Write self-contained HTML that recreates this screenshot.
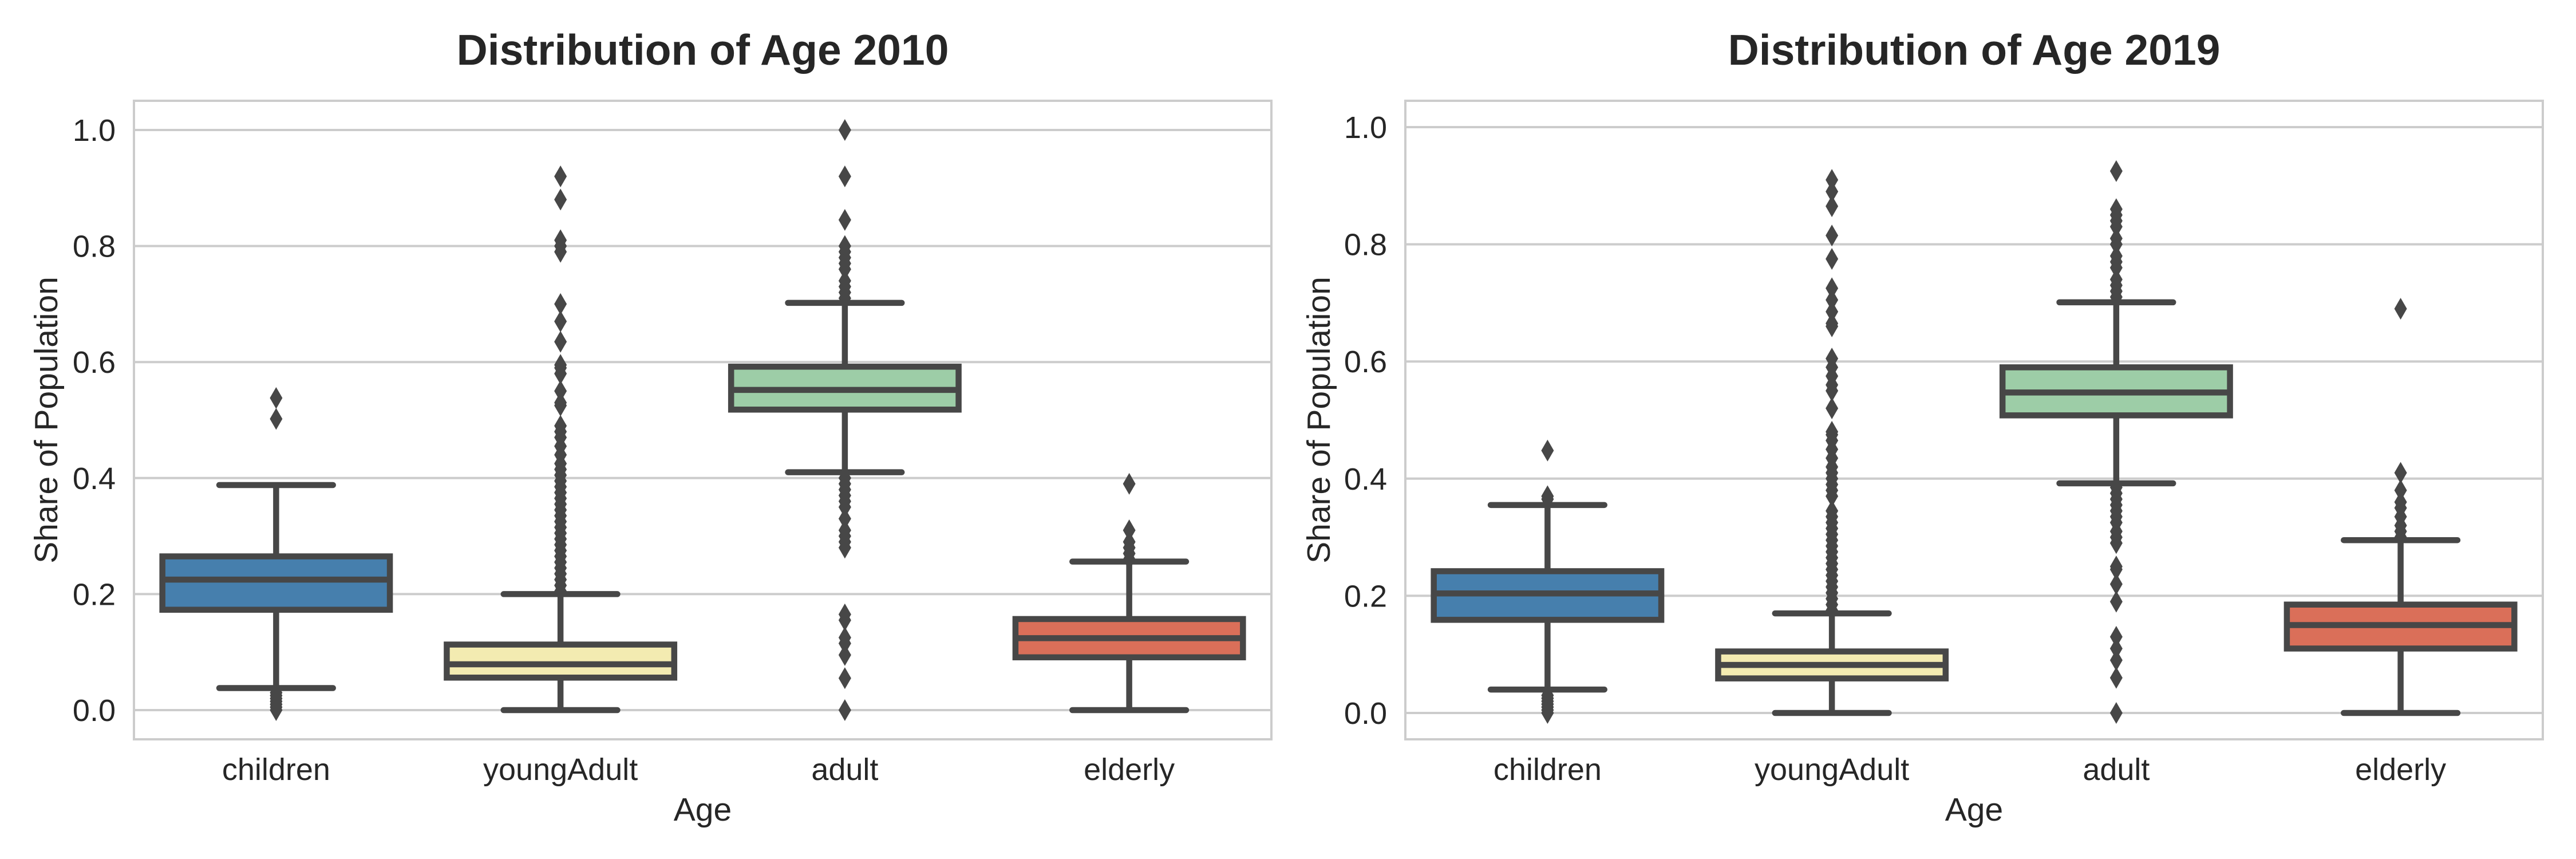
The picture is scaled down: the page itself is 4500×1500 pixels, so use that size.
<!DOCTYPE html>
<html><head><meta charset="utf-8"><style>
html,body{margin:0;padding:0;background:#fff;}
svg{display:block;font-family:"Liberation Sans",Arial,sans-serif;}
</style></head><body>
<svg id="chart" width="4500" height="1500" viewBox="0 0 4500 1500" xmlns="http://www.w3.org/2000/svg"></svg>
<script>
const categories = ["children","youngAdult","adult","elderly"];
const colors = ["#467fad","#f3ebb1","#9dcda7","#da6f59"];
const yTicks = [0.0,0.2,0.4,0.6,0.8,1.0];
const yTickLabels = ["0.0","0.2","0.4","0.6","0.8","1.0"];
// 2010 stats: [whiskerLo, Q1, median, Q3, whiskerHi]
const stats2010 = [
  [0.038,0.173,0.225,0.265,0.388],
  [0.0,0.056,0.079,0.113,0.200],
  [0.410,0.518,0.552,0.592,0.702],
  [0.0,0.091,0.124,0.157,0.256]
];
const outliers2010_children = [0.538,0.502,0.03,0.025,0.02,0.015,0.01,0.005,0.0];
const outliers2010_youngAdult = [0.205,0.215,0.225,0.235,0.245,0.255,0.265,0.275,0.285,0.295,0.305,0.315,0.325,0.335,0.345,0.355,0.365,0.375,0.385,0.395,0.405,0.415,0.425,0.44,0.455,0.47,0.48,0.49,0.525,0.53,0.55,0.58,0.59,0.595,0.635,0.67,0.70,0.79,0.80,0.81,0.88,0.92];
const outliers2010_adult = [0.71,0.72,0.73,0.74,0.76,0.77,0.78,0.79,0.80,0.845,0.92,1.0,0.40,0.39,0.38,0.37,0.36,0.35,0.33,0.31,0.30,0.29,0.28,0.165,0.155,0.125,0.115,0.095,0.055,0.0];
const outliers2010_elderly = [0.26,0.27,0.28,0.29,0.31,0.39];
const stats2019 = [
  [0.040,0.159,0.204,0.242,0.355],
  [0.0,0.059,0.082,0.105,0.170],
  [0.392,0.508,0.547,0.590,0.701],
  [0.0,0.110,0.150,0.185,0.295]
];
const outliers2019_children = [0.365,0.37,0.448,0.03,0.025,0.02,0.015,0.01,0.005,0.0];
const outliers2019_youngAdult = [0.175,0.185,0.195,0.205,0.215,0.225,0.235,0.245,0.255,0.265,0.275,0.285,0.295,0.305,0.315,0.325,0.335,0.345,0.37,0.38,0.39,0.40,0.41,0.42,0.435,0.45,0.465,0.475,0.48,0.52,0.55,0.56,0.575,0.59,0.605,0.66,0.665,0.685,0.705,0.725,0.775,0.815,0.865,0.89,0.91];
const outliers2019_adult = [0.71,0.72,0.73,0.74,0.76,0.77,0.78,0.80,0.81,0.83,0.84,0.85,0.86,0.925,0.385,0.375,0.365,0.355,0.345,0.335,0.325,0.31,0.30,0.29,0.25,0.245,0.22,0.19,0.13,0.11,0.09,0.06,0.0];
const outliers2019_elderly = [0.30,0.31,0.32,0.335,0.35,0.36,0.38,0.41,0.69];

const panels = [
  {name:"2010", title:"Distribution of Age 2010", left:234, right:2221, top:176, bottom:1291, y0:1240, y1:227, stats:stats2010,
   outliers:[outliers2010_children,outliers2010_youngAdult,outliers2010_adult,outliers2010_elderly], ylabX:80},
  {name:"2019", title:"Distribution of Age 2019", left:2455, right:4442, top:176, bottom:1291, y0:1245, y1:222, stats:stats2019,
   outliers:[outliers2019_children,outliers2019_youngAdult,outliers2019_adult,outliers2019_elderly], ylabX:2303}
];
const NS="http://www.w3.org/2000/svg";
const svg=document.getElementById("chart");
function mk(tag,attrs,parent){const e=document.createElementNS(NS,tag);for(const k in attrs)e.setAttribute(k,attrs[k]);parent.appendChild(e);return e;}
const EDGE="#474747", LW=10.5;
panels.forEach((p,pi)=>{
  const g=mk("g",{},svg);
  
  
  const yS=v=>p.y0+(p.y1-p.y0)*v;
  const band=(p.right-p.left)/categories.length;
  const xS=i=>p.left+band*(i+0.5);
  yTicks.forEach((t,i)=>{
    const l=mk("line",{x1:p.left,x2:p.right,y1:yS(t),y2:yS(t),stroke:"#cccccc","stroke-width":4},g);
    
    
    const tx=mk("text",{x:p.left-32,y:yS(t)+19,"text-anchor":"end","font-size":54,fill:"#262626"},g);
    tx.textContent=yTickLabels[i];
    
    
  });
  categories.forEach((c,i)=>{
    const s=p.stats[i], cx=xS(i), bw=band*0.8, cw=band*0.4;
    const bg=mk("g",{},g);
    
    
    mk("line",{x1:cx,x2:cx,y1:yS(s[0]),y2:yS(s[1]),stroke:EDGE,"stroke-width":LW},bg);
    mk("line",{x1:cx,x2:cx,y1:yS(s[3]),y2:yS(s[4]),stroke:EDGE,"stroke-width":LW},bg);
    mk("line",{x1:cx-cw/2,x2:cx+cw/2,y1:yS(s[0]),y2:yS(s[0]),stroke:EDGE,"stroke-width":LW,"stroke-linecap":"round"},bg);
    mk("line",{x1:cx-cw/2,x2:cx+cw/2,y1:yS(s[4]),y2:yS(s[4]),stroke:EDGE,"stroke-width":LW,"stroke-linecap":"round"},bg);
    mk("rect",{x:cx-bw/2,y:yS(s[3]),width:bw,height:yS(s[1])-yS(s[3]),fill:colors[i],stroke:EDGE,"stroke-width":LW},bg);
    mk("line",{x1:cx-bw/2,x2:cx+bw/2,y1:yS(s[2]),y2:yS(s[2]),stroke:EDGE,"stroke-width":LW},bg);
    p.outliers[i].forEach(v=>{
      const y=yS(v);
      const d=mk("polygon",{points:`${cx},${y-19} ${cx+11},${y} ${cx},${y+19} ${cx-11},${y}`,fill:EDGE},bg);
      
      
    });
    const tl=mk("text",{x:cx,y:1362,"text-anchor":"middle","font-size":54,fill:"#262626"},g);
    tl.textContent=c;
    
    
  });
  const fr=mk("rect",{x:p.left,y:p.top,width:p.right-p.left,height:p.bottom-p.top,fill:"none",stroke:"#cccccc","stroke-width":4},g);
  
  
  const tt=mk("text",{x:(p.left+p.right)/2,y:113,"text-anchor":"middle","font-size":75,"font-weight":"bold",fill:"#262626"},g);
  tt.textContent=p.title;
  
  
  const xl=mk("text",{x:(p.left+p.right)/2,y:1433,"text-anchor":"middle","font-size":57,fill:"#262626"},g);
  xl.textContent="Age";
  
  
  const ym=(p.top+p.bottom)/2;
  const yl=mk("text",{x:p.ylabX,y:ym,"text-anchor":"middle","font-size":57,fill:"#262626",transform:`rotate(-90 ${p.ylabX} ${ym})`,dy:20},g);
  yl.textContent="Share of Population";
  
  
});
</script>
</body></html>
